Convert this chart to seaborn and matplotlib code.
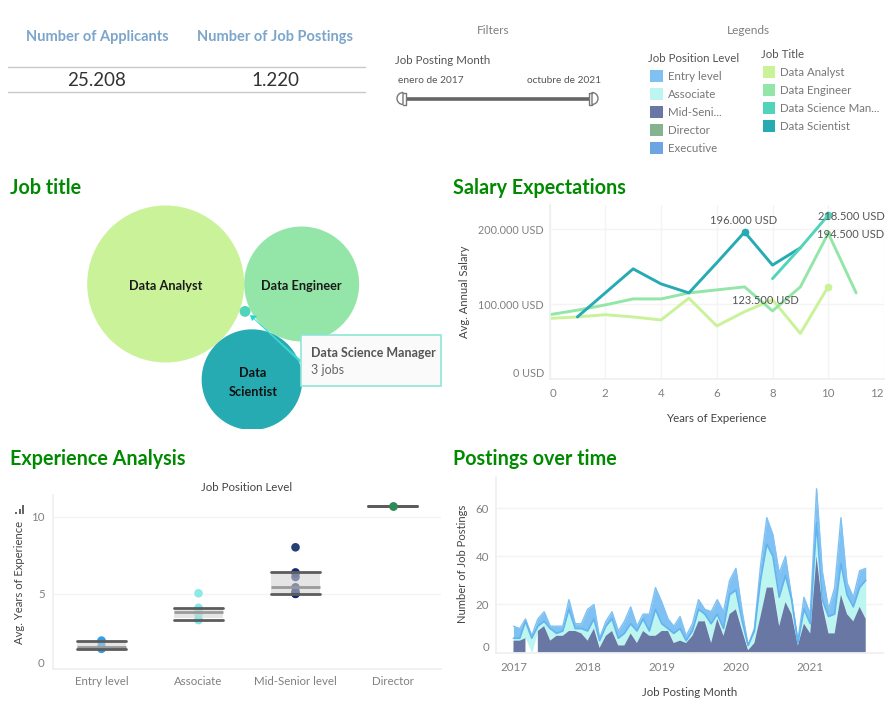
import numpy as np
import pandas as pd
import matplotlib
matplotlib.use('Agg')
import matplotlib.pyplot as plt
import matplotlib.patches as mpatches
import seaborn as sns

W, H = 891, 709

# job title bubbles
job_titles = ['Data Analyst', 'Data Engineer', 'Data Scientist', 'Data Science Manager']
job_counts = [625, 335, 257, 3]

# salary per years of experience (thousands USD)
analyst_years = [0, 1, 2, 3, 4, 5, 6, 7, 8, 9, 10]
analyst_salary = [81, 83, 86, 83, 79, 108, 71, 90, 106, 61, 123.5]
engineer_years = [0, 1, 2, 3, 4, 5, 6, 7, 8, 9, 10, 11]
engineer_salary = [86, 92, 99, 107, 107, 115, 119, 123, 91, 123, 194.5, 115]
manager_years = [8, 9, 10]
manager_salary = [134, 175, 218.5]
scientist_years = [1, 2, 3, 4, 5, 6, 7, 8, 9]
scientist_salary = [83, 115, 147, 127, 115, 155, 196, 152, 175]

# experience per position level
level_names = ['Entry level', 'Associate', 'Mid-Senior level', 'Director']
entry_exp = [1.43, 1.45, 1.58, 1.9, 1.97]
associate_exp = [3.3, 3.32, 3.66, 4.0, 4.1, 5.04]
mid_exp = [5.0, 5.02, 5.04, 5.15, 5.43, 6.1, 6.35, 6.4, 8.03]
director_exp = [10.7]

# postings per month, jan 2017 - oct 2021
mid_posts = [5, 5, 6, np.nan, 9, 11, 5, 7, 7, 9, 9, 8,
             5, 10, 2, 7, 9, 3, 3, 8, 4, 9, 7, 7,
             9, 9, 4, 5, 4, 7, 13, 13, 4, 14, 7, 16,
             18, 9, 1, 4, 15, 27, 27, 11, 21, 16, 3, 12,
             8, 40, 20, 8, 8, 24, 16, 13, 19, 14]
assoc_posts = [1, 1, 7, 6, 2, 2, 5, 1, 2, 9, 1, 2,
               4, 4, 3, 4, 5, 3, 5, 4, 5, 5, 2, 11,
               3, 1, 4, 5, 1, 2, 5, 3, 8, 2, 3, 8,
               8, 4, 2, 5, 15, 18, 13, 12, 11, 6, 1, 6,
               4, 14, 2, 7, 8, 13, 8, 6, 8, 16]
entry_posts = [5, 4, 1, 1, 3, 4, 1, 3, 2, 4, 2, 2,
               9, 6, 1, 2, 3, 3, 5, 7, 2, 2, 7, 9,
               9, 4, 3, 5, 2, 3, 4, 2, 5, 6, 7, 6,
               9, 4, 0, 1, 6, 11, 9, 10, 8, 1, 1, 5,
               4, 14, 12, 3, 11, 19, 5, 4, 7, 5]
director_posts = [0] * 29 + [0.5] + [0] * 28

title_colors = ['#c9f299', '#93e6a8', '#27abb2', '#52d4ba']
level_colors = ['#7fc1f2', '#bdf5f0', '#6877a3', '#85b38f', '#6ba6e3']
dot_colors = ['#2f9be8', '#7ee8e4', '#0e2a6b', '#2e8b57']

sns.set_theme(style='white')
plt.rcParams['font.family'] = ['Lato', 'DejaVu Sans']
GREEN = '#008a00'
TICK = '#808080'
LABEL = '#444444'
GRID = '#f4f4f4'

fig = plt.figure(figsize=(W / 100, H / 100), dpi=100, facecolor='white')


def px_axes(left, top, right, bottom, **kw):
    return fig.add_axes([left / W, 1 - bottom / H, (right - left) / W, (bottom - top) / H], **kw)


def clean(ax):
    sns.despine(ax=ax, top=True, right=True)
    for s in ['left', 'bottom']:
        ax.spines[s].set_color('#f0f0f0')
    ax.grid(True, color=GRID, lw=1)
    ax.set_axisbelow(True)
    ax.tick_params(length=0, labelsize=8.3, labelcolor=TICK)
    ax.set_xlabel('')
    ax.set_ylabel('')


# ---- salary
ax = px_axes(549.5, 205, 884, 379.3)
for yrs, sal, col in [(analyst_years, analyst_salary, title_colors[0]),
                      (engineer_years, engineer_salary, title_colors[1]),
                      (scientist_years, scientist_salary, title_colors[2]),
                      (manager_years, manager_salary, title_colors[3])]:
    sns.lineplot(x=yrs, y=sal, color=col, lw=2.1, ax=ax)
ax.plot(7, 196, 'o', ms=4.5, color=title_colors[2])
ax.plot(10, 218.5, 'o', ms=4.5, color=title_colors[3])
ax.plot(10, 123.5, 'o', ms=4.5, color=title_colors[0])
ax.plot(10, 194.5, 'o', ms=3, color=title_colors[1])
ax.set_xlim(0, 12)
ax.set_ylim(0, 232)
ax.set_xticks(range(0, 13, 2))
ax.set_yticks([0, 100, 200])
ax.set_yticklabels(['0 USD', '100.000 USD', '200.000 USD'])
clean(ax)
ax.tick_params(axis='y', pad=4, labelsize=7.8)
ax.tick_params(axis='x', pad=6)
ax.get_yticklabels()[0].set_va('bottom')
ax.get_xticklabels()[0].set_ha('left')
ax.get_xticklabels()[-1].set_ha('right')

# ---- experience
ax = px_axes(53, 495, 441, 669.3)
exp = pd.DataFrame({
    'level': [level_names[0]] * len(entry_exp) + [level_names[1]] * len(associate_exp)
    + [level_names[2]] * len(mid_exp) + [level_names[3]] * len(director_exp),
    'years': entry_exp + associate_exp + mid_exp + director_exp})
sns.stripplot(data=exp, x='level', y='years', hue='level', order=level_names,
              hue_order=level_names, palette=dot_colors, jitter=False, size=6.2,
              alpha=0.9, legend=False, zorder=1.5, ax=ax)
sns.boxplot(data=exp, x='level', y='years', order=level_names, width=0.5, whis=1.0,
            showfliers=False, color='#d0d0d0', linecolor='#5c5c5c', linewidth=0,
            boxprops={'alpha': 0.55, 'edgecolor': 'none'},
            medianprops={'color': '#9a9a9a', 'linewidth': 2, 'zorder': 2.5},
            capprops={'color': '#5c5c5c', 'linewidth': 2, 'zorder': 4}, capwidths=0.5,
            zorder=2, ax=ax)
ax.plot(3, director_exp[0], 'o', ms=5, color=dot_colors[3], zorder=5)
ax.set_xlim(-0.5, 3.5)
ax.set_ylim(0.1, 11.43)
ax.set_yticks([0.1, 5, 10])
ax.set_yticklabels(['0', '5', '10'])
clean(ax)
ax.grid(False, axis='x')
ax.tick_params(axis='y', pad=6)
ax.tick_params(axis='x', pad=5)
ax.get_yticklabels()[0].set_va('bottom')

# ---- postings
ax = px_axes(496, 476.7, 883, 652.7)
months = pd.date_range('2017-01-01', periods=len(mid_posts), freq='MS')
mid_arr = np.array(mid_posts, dtype=float)
assoc_arr = np.array(assoc_posts, dtype=float)
entry_arr = np.array(entry_posts, dtype=float)
assoc_top = np.nan_to_num(mid_arr) + assoc_arr
entry_top = assoc_top + entry_arr
ax.fill_between(months, assoc_top, entry_top, color=level_colors[0], lw=0)
ax.fill_between(months, np.nan_to_num(mid_arr), assoc_top, color=level_colors[1], lw=0)
ax.fill_between(months, 0, mid_arr, color=level_colors[2], lw=0, where=~np.isnan(mid_arr))
ax.fill_between(months, 0, director_posts, color=level_colors[3], lw=0)
sns.lineplot(x=months, y=entry_top, color=level_colors[0], lw=1, ax=ax)
sns.lineplot(x=months, y=assoc_top, color='#62b4ee', lw=1.2, ax=ax)
ax.set_xlim(pd.Timestamp('2016-10-07'), pd.Timestamp('2021-12-25'))
ax.set_ylim(0, 73)
ax.set_yticks([0, 20, 40, 60])
ax.set_xticks(pd.to_datetime(['2017-01-01', '2018-01-01', '2019-01-01', '2020-01-01', '2021-01-01']))
ax.set_xticklabels(['2017', '2018', '2019', '2020', '2021'])
clean(ax)
ax.grid(False, axis='x')
ax.tick_params(axis='y', pad=5)
ax.tick_params(axis='x', pad=7)
ax.get_yticklabels()[0].set_va('bottom')

# ---- bubbles, radius follows the job count, circles tangent like packed bubbles
k = 3.14
radius = {t: k * np.sqrt(c) for t, c in zip(job_titles, job_counts)}


def tangent(c1, r1, c2, r2, r, side):
    d1, d2 = r1 + r, r2 + r
    d = np.hypot(*(np.array(c2) - c1))
    a = (d1 ** 2 - d2 ** 2 + d ** 2) / (2 * d)
    h = np.sqrt(d1 ** 2 - a ** 2)
    u = (np.array(c2) - c1) / d
    return np.array(c1) + a * u + side * h * np.array([-u[1], u[0]])


ax = px_axes(60, 195, 445, 429.5)
ax.set_xlim(60, 445)
ax.set_ylim(429.5, 195)
ax.axis('off')
c_an = np.array([165.7, 284.0])
r_an, r_en = radius['Data Analyst'], radius['Data Engineer']
r_sc, r_ma = radius['Data Scientist'], radius['Data Science Manager']
c_en = c_an + [r_an + r_en, 0]
c_sc = tangent(c_an, r_an, c_en, r_en, r_sc, 1)
c_ma = tangent(c_an, r_an, c_en, r_en, r_ma, 1)
for c, r, col in [(c_an, r_an, title_colors[0]), (c_en, r_en, title_colors[1]),
                  (c_sc, r_sc, title_colors[2]), (c_ma, r_ma, title_colors[3])]:
    ax.add_patch(mpatches.Circle(c, r, color=col, lw=0))
ax.text(c_an[0], 286, 'Data Analyst', ha='center', va='center', fontsize=9.2, fontweight='bold', color='#1a1a1a')
ax.text(c_en[0], 286, 'Data Engineer', ha='center', va='center', fontsize=9.2, fontweight='bold', color='#1a1a1a')
ax.text(c_sc[0] + 1, 373.5, 'Data', ha='center', va='center', fontsize=9.2, fontweight='bold', color='#111111')
ax.text(c_sc[0] + 1, 392.5, 'Scientist', ha='center', va='center', fontsize=9.2, fontweight='bold', color='#111111')

# ---- page level text and controls
ov = fig.add_axes([0, 0, 1, 1], facecolor='none')
ov.set_xlim(0, W)
ov.set_ylim(H, 0)
ov.axis('off')

# tooltip
ov.add_patch(mpatches.Polygon([(301, 363), (301, 360.5), (252, 317)], color='#3fd8d0', lw=0.6, alpha=0.9))
ov.add_patch(mpatches.Polygon([(250, 315), (257, 316), (252, 321)], color='#22d3d8', lw=0))
ov.add_patch(mpatches.Rectangle((300.5, 335), 140.5, 51, fc='#fafafa', ec='#8fe6d6', lw=1.2))
ov.text(311, 353, 'Data Science Manager', fontsize=9, fontweight='bold', color='#555555', va='center')
ov.text(311, 370.5, '3 jobs', fontsize=9, color='#666666', va='center')

# section titles
for x, y, t in [(10, 188, 'Job title'), (453, 188, 'Salary Expectations'),
                (10, 459, 'Experience Analysis'), (453, 459, 'Postings over time')]:
    ov.text(x, y, t, color=GREEN, fontsize=14.2, fontweight='bold', va='center')

# kpis
for y in [67.3, 92.3]:
    ov.plot([8, 365], [y, y], color='#c8c8c8', lw=1)
ov.text(97, 37.5, 'Number of Applicants', color='#7ba5cb', fontsize=10.5, fontweight='bold', ha='center', va='center')
ov.text(275, 37.5, 'Number of Job Postings', color='#7ba5cb', fontsize=10.5, fontweight='bold', ha='center', va='center')
ov.text(97, 81, '25.208', color='#333333', fontsize=13.5, ha='center', va='center')
ov.text(275, 81, '1.220', color='#333333', fontsize=13.5, ha='center', va='center')

# filter
ov.text(493, 30.5, 'Filters', color='#808080', fontsize=8.6, ha='center', va='center')
ov.text(748, 30.5, 'Legends', color='#808080', fontsize=8.6, ha='center', va='center')
ov.text(395, 60.5, 'Job Posting Month', color='#555555', fontsize=8.3, va='center')
ov.text(398, 80.5, 'enero de 2017', color='#555555', fontsize=7.3, va='center')
ov.text(601, 80.5, 'octubre de 2021', color='#555555', fontsize=7.3, va='center', ha='right')
ov.plot([406, 589], [98.5, 98.5], color='#666666', lw=2.6, solid_capstyle='butt')
ov.add_patch(mpatches.Wedge((403, 98.5), 6, 90, 270, fc='white', ec='#777777', lw=1))
ov.plot([403, 406, 406, 403], [92.5, 92.5, 104.5, 104.5], color='#777777', lw=1)
ov.add_patch(mpatches.Wedge((592, 98.5), 6, -90, 90, fc='white', ec='#777777', lw=1))
ov.plot([592, 589, 589, 592], [92.5, 92.5, 104.5, 104.5], color='#777777', lw=1)

# legends
ov.text(648.3, 59, 'Job Position Level', color='#555555', fontsize=8.3, va='center')
level_legend = ['Entry level', 'Associate', 'Mid-Seni...', 'Director', 'Executive']
for i, (t, c) in enumerate(zip(level_legend, level_colors)):
    y = 76 + 18 * i
    ov.add_patch(mpatches.Rectangle((650, y - 6), 13, 12, color=c, lw=0))
    ov.text(667.7, y + 0.5, t, color='#777777', fontsize=8.3, va='center')
ov.text(761, 54.5, 'Job Title', color='#555555', fontsize=8.3, va='center')
title_legend = ['Data Analyst', 'Data Engineer', 'Data Science Man...', 'Data Scientist']
for i, (t, c) in enumerate(zip(title_legend, [title_colors[0], title_colors[1], title_colors[3], title_colors[2]])):
    y = 72 + 18 * i
    ov.add_patch(mpatches.Rectangle((763, y - 6), 12, 12, color=c, lw=0))
    ov.text(780, y + 0.5, t, color='#777777', fontsize=8.3, va='center')

# axis titles
ov.text(464, 291.7, 'Avg. Annual Salary', rotation=90, color=LABEL, fontsize=8.1, ha='center', va='center')
ov.text(716.7, 418.5, 'Years of Experience', color=LABEL, fontsize=8.3, ha='center', va='center')
ov.text(247, 487.5, 'Job Position Level', color=LABEL, fontsize=8.3, ha='center', va='center')
ov.text(20, 582, 'Avg. Years of Experience', rotation=90, color=LABEL, fontsize=8.1, ha='center', va='center')
ov.text(463, 564, 'Number of Job Postings', rotation=90, color=LABEL, fontsize=8.1, ha='center', va='center')
ov.text(690, 692.5, 'Job Posting Month', color=LABEL, fontsize=8.3, ha='center', va='center')
for x0, h in [(15, 2.5), (18.5, 5.5), (22, 9)]:
    ov.add_patch(mpatches.Rectangle((x0, 514 - h), 2, h, color='#666666', lw=0))

# value labels on the salary lines
ov.text(744, 220.5, '196.000 USD', color='#555555', fontsize=8, ha='center', va='center')
ov.text(884.5, 216, '218.500 USD', color='#555555', fontsize=8, ha='right', va='center')
ov.text(884.5, 234, '194.500 USD', color='#555555', fontsize=8, ha='right', va='center')
ov.text(765.5, 300, '123.500 USD', color='#555555', fontsize=8, ha='center', va='center')

fig.savefig('out.png', dpi=100)
